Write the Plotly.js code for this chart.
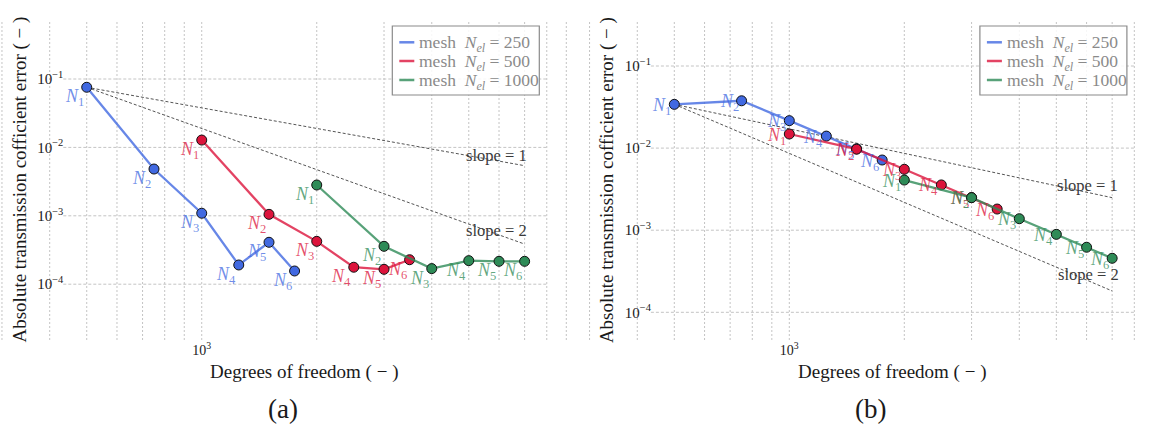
<!DOCTYPE html>
<html>
<head>
<meta charset="utf-8">
<script src="https://cdn.plot.ly/plotly-3.0.1.min.js"></script>
<style>html,body{margin:0;padding:0;background:#fff;}#chart{width:1153px;height:424px;}</style>
</head>
<body>
<div id="chart"></div>
<script>
// ---------------- data ----------------
const meshNames = ['250', '500', '1000'];
const pLabels = ['1', '2', '3', '4', '5', '6'];

// panel (a)
const dofA250 = [500, 750, 1000, 1250, 1500, 1750];
const errA250 = [0.0757, 0.00483, 0.00109, 1.91e-4, 4.1e-4, 1.56e-4];
const dofA500 = [1000, 1500, 2000, 2500, 3000, 3500];
const errA500 = [0.0128, 0.00105, 4.23e-4, 1.77e-4, 1.65e-4, 2.28e-4];
const dofA1000 = [2000, 3000, 4000, 5000, 6000, 7000];
const errA1000 = [2.82e-3, 3.58e-4, 1.69e-4, 2.21e-4, 2.16e-4, 2.16e-4];

// panel (b)
const dofB250 = [500, 750, 1000, 1250, 1500, 1750];
const errB250 = [0.0341, 0.0377, 0.0216, 0.0140, 0.0098, 0.00716];
const dofB500 = [1000, 1500, 2000, 2500, 3000, 3500];
const errB500 = [0.01485, 0.0097, 0.00552, 0.00356, 0.00250, 0.00181];
const dofB1000 = [2000, 3000, 4000, 5000, 6000, 7000];
const errB1000 = [0.00408, 0.00249, 0.00138, 8.9e-4, 6.2e-4, 4.55e-4];

// reference slope lines (end points)
const slopeDof = [500, 7000];
const slopeA1 = [0.0757, 0.0054];
const slopeA2 = [0.0757, 0.000386];
const slopeB1 = [0.0341, 0.00249];
const slopeB2 = [0.0341, 0.000182];

const xGridVals = [300, 400, 500, 600, 700, 800, 900, 1000, 2000, 3000, 4000, 5000, 6000, 7000, 8000, 9000];
const xTickVals = [1000];
const xTickText = ['10<sup>3</sup>'];
const yTickVals = [1e-4, 1e-3, 1e-2, 1e-1];
const yTickText = ['10<sup>−4</sup>', '10<sup>−3</sup>', '10<sup>−2</sup>', '10<sup>−1</sup>'];

// ---------------- styling ----------------
const W = 1153, H = 424;
const FONT = 'Liberation Serif, serif';
const solid = ['#4169e1', '#dc143c', '#2e8b57'];
const faded = ['rgba(65,105,225,0.8)', 'rgba(220,20,60,0.8)', 'rgba(46,139,87,0.8)'];
const labelCol = ['rgba(65,105,225,0.75)', 'rgba(220,20,60,0.75)', 'rgba(46,139,87,0.75)'];
const GRID = '#c4c4c4';
const PX = v => v / W;
const PY = v => 1 - v / H;
const OFF = 587.6;   // pixel offset of panel (b)

const yDomain = [PY(340), PY(20)];

const panels = [
  {xa: 'x', ya: 'y', xr: [2.472, 3.977], yr: [-4.8158, -0.1374], off: 0,
   dof: [dofA250, dofA500, dofA1000], err: [errA250, errA500, errA1000],
   s1: slopeA1, s2: slopeA2, lab: '(a)', labY: 'top', labShift: 3,
   s1shift: [4, 10], s2shift: [4, 14]},
  {xa: 'x2', ya: 'y2', xr: [2.472, 3.952], yr: [-4.3374, -0.4397], off: OFF,
   dof: [dofB250, dofB500, dofB1000], err: [errB250, errB500, errB1000],
   s1: slopeB1, s2: slopeB2, lab: '(b)', labY: 'middle', labShift: -2,
   s1shift: [8, 12], s2shift: [9, 16]}
];

const traces = [];
const annotations = [];
const shapes = [];
const layout = {
  width: W, height: H,
  margin: {l: 0, r: 0, t: 0, b: 0},
  paper_bgcolor: '#ffffff', plot_bgcolor: 'rgba(0,0,0,0)',
  showlegend: false,
  font: {family: FONT, color: '#1a1a1a'}
};

panels.forEach((p, pi) => {
  const xk = pi === 0 ? 'xaxis' : 'xaxis2';
  const yk = pi === 0 ? 'yaxis' : 'yaxis2';
  layout[xk] = {
    type: 'log', range: p.xr,
    domain: [PX(p.off), pi === 0 ? PX(575) : 1],
    anchor: p.ya,
    showgrid: false, zeroline: false, showline: false, ticks: '',
    tickmode: 'array', tickvals: xTickVals, ticktext: xTickText,
    tickfont: {family: FONT, size: 14, color: '#1a1a1a'}
  };
  layout[yk] = {
    type: 'log', range: p.yr, domain: yDomain,
    anchor: 'free', position: PX(p.off + 63.3),
    showgrid: false, zeroline: false, showline: false, ticks: '',
    tickmode: 'array', tickvals: yTickVals, ticktext: yTickText,
    tickfont: {family: FONT, size: 15, color: '#1a1a1a'}
  };

  // vertical grid lines (full height of the axes box)
  xGridVals.forEach(v => {
    shapes.push({type: 'line', layer: 'below', xref: p.xa, yref: 'paper',
      x0: v, x1: v, y0: yDomain[0], y1: yDomain[1],
      line: {color: GRID, width: 1, dash: '2px,2px'}});
  });
  // horizontal grid lines (limited span like the original)
  yTickVals.forEach(v => {
    shapes.push({type: 'line', layer: 'below', xref: 'paper', yref: p.ya,
      x0: PX(p.off + 63.3), x1: PX(p.off + 547), y0: v, y1: v,
      line: {color: GRID, width: 1, dash: '3px,2px'}});
  });

  // slope reference lines
  [p.s1, p.s2].forEach(s => {
    traces.push({x: slopeDof, y: s, xaxis: p.xa, yaxis: p.ya, mode: 'lines',
      line: {color: '#555555', width: 1, dash: '3px,2px'}, hoverinfo: 'skip', cliponaxis: false});
  });
  annotations.push({xref: p.xa, yref: p.ya, x: Math.log10(slopeDof[1]), y: Math.log10(p.s1[1]),
    text: 'slope = 1', showarrow: false, xanchor: 'right', yanchor: 'middle',
    xshift: p.s1shift[0], yshift: p.s1shift[1], font: {family: FONT, size: 16.5, color: '#3a3a3a'}});
  annotations.push({xref: p.xa, yref: p.ya, x: Math.log10(slopeDof[1]), y: Math.log10(p.s2[1]),
    text: 'slope = 2', showarrow: false, xanchor: 'right', yanchor: 'middle',
    xshift: p.s2shift[0], yshift: p.s2shift[1], font: {family: FONT, size: 16.5, color: '#3a3a3a'}});

  // data series
  for (let k = 0; k < 3; k++) {
    traces.push({x: p.dof[k], y: p.err[k], xaxis: p.xa, yaxis: p.ya,
      mode: 'lines+markers', name: 'mesh N_el = ' + meshNames[k],
      line: {color: faded[k], width: 2.3},
      marker: {size: 10, color: solid[k], line: {color: '#111111', width: 1}},
      cliponaxis: false});
    p.dof[k].forEach((d, i) => {
      annotations.push({xref: p.xa, yref: p.ya, x: Math.log10(d), y: Math.log10(p.err[k][i]),
        text: '<i>N</i><sub>' + pLabels[i] + '</sub>', showarrow: false,
        xanchor: 'right', yanchor: p.labY, xshift: -1, yshift: p.labShift,
        font: {family: FONT, size: 18, color: labelCol[k]}});
    });
  }

  // legend (drawn box)
  const lx0 = p.off + 392.3, lx1 = p.off + 539.3;
  shapes.push({type: 'rect', xref: 'paper', yref: 'paper', layer: 'above',
    x0: PX(lx0), x1: PX(lx1), y0: PY(95), y1: PY(26),
    fillcolor: 'rgba(255,255,255,0.85)', line: {color: '#8a8a8a', width: 1.2}});
  const rowY = [42.3, 61, 80];
  for (let k = 0; k < 3; k++) {
    shapes.push({type: 'line', xref: 'paper', yref: 'paper', layer: 'above',
      x0: PX(p.off + 399.3), x1: PX(p.off + 414.3), y0: PY(rowY[k]), y1: PY(rowY[k]),
      line: {color: faded[k], width: 2.5}});
    annotations.push({xref: 'paper', yref: 'paper', x: PX(p.off + 417), y: PY(rowY[k] + 1),
      xanchor: 'left', yanchor: 'middle', showarrow: false,
      text: 'mesh  <i>N</i><sub><i>el</i></sub> = ' + meshNames[k],
      font: {family: FONT, size: 17.5, color: '#8a8a8a'}});
  }

  // axis titles and panel label
  annotations.push({xref: 'paper', yref: 'paper', x: PX(p.off + 304.5), y: PY(371.7),
    xanchor: 'center', yanchor: 'middle', showarrow: false,
    text: 'Degrees of freedom ( − )', font: {family: FONT, size: 19, color: '#1a1a1a'}});
  annotations.push({xref: 'paper', yref: 'paper', x: PX(p.off + 19.5), y: PY(180),
    xanchor: 'center', yanchor: 'middle', showarrow: false, textangle: -90,
    text: 'Absolute transmission cofficient error ( − )', font: {family: FONT, size: 19, color: '#1a1a1a'}});
  annotations.push({xref: 'paper', yref: 'paper', x: PX(p.off + 283), y: PY(409),
    xanchor: 'center', yanchor: 'middle', showarrow: false,
    text: p.lab, font: {family: FONT, size: 27, color: '#1a1a1a'}});
});

layout.shapes = shapes;
layout.annotations = annotations;

Plotly.newPlot('chart', traces, layout, {staticPlot: true, displayModeBar: false});
</script>
</body>
</html>
